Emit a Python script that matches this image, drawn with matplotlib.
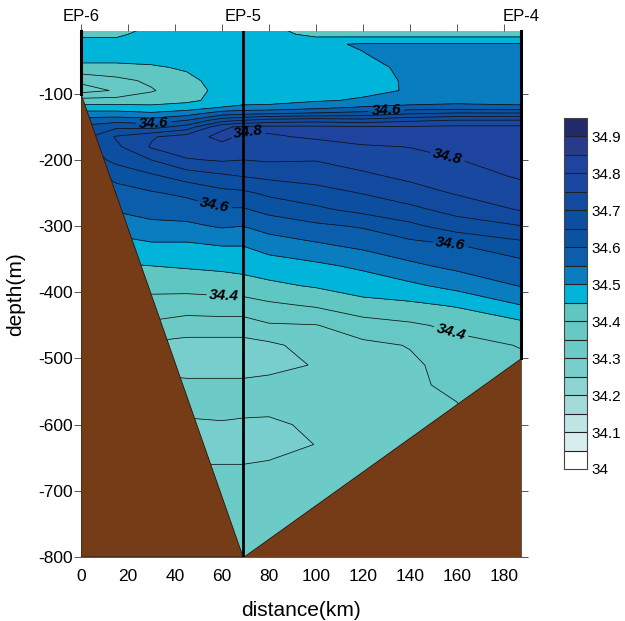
import matplotlib
matplotlib.use('Agg')
import matplotlib.pyplot as plt
import numpy as np
from matplotlib.patches import Polygon
from matplotlib.ticker import FixedLocator

plt.rcParams['font.family'] = ['Liberation Sans', 'DejaVu Sans']
plt.rcParams['axes.unicode_minus'] = False

# station grid (distance along section, km) and sample depths (m)
dist_km = [0, 15, 30, 45, 60, 69, 80, 100, 120, 140, 160, 187]
depth_m = [0, 10, 25, 40, 60, 80, 95, 110, 120, 130, 140, 150, 165, 180, 200,
           225, 250, 275, 300, 330, 360, 390, 420, 450, 480, 510, 540, 570,
           600, 630, 660, 700, 750, 800]

sal_0 = [34.40, 34.44, 34.47, 34.47, 34.44, 34.36, 34.33, 34.42, 34.47, 34.52,
         34.57, 34.61, 34.63, 34.63, 34.61, 34.58, 34.55, 34.53, 34.51, 34.47,
         34.44, 34.40, 34.36, 34.32, 34.29, 34.29, 34.31, 34.32, 34.30, 34.29,
         34.30, 34.32, 34.32, 34.32]
sal_15 = [34.41, 34.44, 34.47, 34.47, 34.44, 34.385, 34.355, 34.42, 34.47, 34.52,
          34.58, 34.64, 34.705, 34.69, 34.665, 34.61, 34.585, 34.555, 34.52, 34.48,
          34.445, 34.41, 34.37, 34.33, 34.29, 34.29, 34.31, 34.32, 34.30, 34.29,
          34.30, 34.32, 34.32, 34.32]
sal_30 = [34.46, 34.47, 34.47, 34.47, 34.445, 34.41, 34.395, 34.43, 34.46, 34.51,
          34.57, 34.63, 34.745, 34.755, 34.70, 34.64, 34.595, 34.565, 34.54, 34.49,
          34.45, 34.415, 34.38, 34.34, 34.29, 34.29, 34.31, 34.32, 34.30, 34.29,
          34.30, 34.32, 34.32, 34.32]
sal_45 = [34.47, 34.47, 34.47, 34.47, 34.455, 34.44, 34.435, 34.44, 34.47, 34.53,
          34.60, 34.67, 34.775, 34.78, 34.745, 34.67, 34.61, 34.575, 34.54, 34.49,
          34.455, 34.42, 34.37, 34.33, 34.28, 34.28, 34.31, 34.32, 34.29, 34.28,
          34.30, 34.32, 34.32, 34.32]
sal_60 = [34.47, 34.47, 34.47, 34.47, 34.47, 34.465, 34.46, 34.465, 34.50, 34.58,
          34.68, 34.79, 34.815, 34.785, 34.755, 34.69, 34.635, 34.595, 34.555, 34.50,
          34.46, 34.425, 34.375, 34.33, 34.28, 34.28, 34.31, 34.32, 34.295, 34.28,
          34.30, 34.32, 34.32, 34.32]
sal_69 = [34.47, 34.47, 34.47, 34.47, 34.47, 34.47, 34.47, 34.48, 34.51, 34.59,
          34.70, 34.81, 34.79, 34.77, 34.75, 34.70, 34.64, 34.595, 34.55, 34.50,
          34.465, 34.43, 34.375, 34.33, 34.28, 34.28, 34.31, 34.32, 34.29, 34.28,
          34.30, 34.32, 34.32, 34.32]
sal_80 = [34.46, 34.47, 34.47, 34.47, 34.47, 34.47, 34.475, 34.485, 34.51, 34.60,
          34.72, 34.81, 34.795, 34.775, 34.755, 34.71, 34.66, 34.615, 34.57, 34.52,
          34.475, 34.44, 34.39, 34.345, 34.29, 34.29, 34.31, 34.315, 34.29, 34.28,
          34.305, 34.32, 34.32, 34.32]
sal_100 = [34.42, 34.435, 34.49, 34.485, 34.48, 34.48, 34.485, 34.495, 34.53, 34.61,
           34.73, 34.81, 34.805, 34.785, 34.752, 34.72, 34.68, 34.64, 34.59, 34.54,
           34.49, 34.455, 34.405, 34.348, 34.32, 34.302, 34.32, 34.32, 34.31, 34.301,
           34.31, 34.32, 34.32, 34.32]
sal_120 = [34.40, 34.43, 34.505, 34.498, 34.48, 34.485, 34.49, 34.505, 34.553, 34.62,
           34.72, 34.805, 34.82, 34.795, 34.77, 34.74, 34.702, 34.665, 34.605, 34.56,
           34.51, 34.47, 34.435, 34.375, 34.34, 34.33, 34.33, 34.33, 34.33, 34.33,
           34.32, 34.32, 34.32, 34.32]
sal_140 = [34.40, 34.43, 34.505, 34.52, 34.515, 34.505, 34.503, 34.52, 34.565, 34.648,
           34.74, 34.805, 34.825, 34.801, 34.785, 34.76, 34.729, 34.687, 34.638, 34.581,
           34.54, 34.49, 34.439, 34.392, 34.352, 34.343, 34.345, 34.347, 34.347, 34.347,
           34.347, 34.347, 34.347, 34.347]
sal_160 = [34.40, 34.43, 34.505, 34.52, 34.52, 34.52, 34.52, 34.53, 34.57, 34.66,
           34.752, 34.81, 34.835, 34.82, 34.798, 34.777, 34.754, 34.718, 34.674, 34.596,
           34.562, 34.516, 34.454, 34.411, 34.385, 34.365, 34.356, 34.349, 34.349, 34.349,
           34.349, 34.349, 34.349, 34.349]
sal_187 = [34.40, 34.43, 34.505, 34.52, 34.52, 34.52, 34.52, 34.53, 34.56, 34.66,
           34.752, 34.81, 34.835, 34.835, 34.825, 34.805, 34.778, 34.753, 34.698, 34.63,
           34.582, 34.552, 34.498, 34.433, 34.402, 34.39, 34.38, 34.38, 34.38, 34.38,
           34.38, 34.38, 34.38, 34.38]

# bottom topography (distance, depth)
bottom_left = [(0, 100), (69, 800)]
bottom_right = [(187.3, 500), (69, 800)]

stations = ['EP-6', 'EP-5', 'EP-4']
station_km = [0, 69, 187.3]

levels = np.round(np.arange(34.0, 34.951, 0.05), 2)
label_levels = [34.4, 34.6, 34.8]
band_colors = ['#ffffff', '#d8eeee', '#bfe5e5', '#a3dbdb', '#8dd4d2', '#78cecc',
               '#6ccac7', '#66c8c4', '#5fc6c1', '#00b4da', '#0a7dc0', '#0a5eab',
               '#0a52a2', '#0c4e9f', '#124aa0', '#1848a0', '#1e44a0', '#283a8a',
               '#222a6a']

label_pos = [(31, -145), (71, -156), (130, -129), (156, -195),
             (57, -268), (157, -336), (61, -408), (158, -454)]

Z = np.column_stack([sal_0, sal_15, sal_30, sal_45, sal_60, sal_69, sal_80,
                     sal_100, sal_120, sal_140, sal_160, sal_187])
X, Y = np.meshgrid(dist_km, -np.array(depth_m))

fig = plt.figure(figsize=(6.25, 6.21), dpi=100)
ax = fig.add_axes([0.1296, 0.1031, 0.704, 0.847])
cax = fig.add_axes([0.9024, 0.2448, 0.0368, 0.5652])

cf = ax.contourf(X, Y, Z, levels=levels, colors=band_colors)
plain_levels = [lv for lv in levels if lv not in label_levels]
ax.contour(X, Y, Z, levels=plain_levels, colors='#111111', linewidths=0.55)
cs = ax.contour(X, Y, Z, levels=label_levels, colors='#111111', linewidths=0.55)
labels = ax.clabel(cs, manual=label_pos, inline=True, fmt='%.1f',
                   fontsize=11, inline_spacing=3)
for t in labels:
    t.set_fontweight('bold')
    t.set_fontstyle('italic')
    t.set_color('black')
    t.set_zorder(6)

# bathymetry
(x0, d0), (x1, d1) = bottom_left
ax.add_patch(Polygon([(x0, -d0), (x1, -d1), (x0, -d1)], closed=True,
                     facecolor='#763c18', edgecolor='#2a1406', lw=0.6, zorder=3))
(x0, d0), (x1, d1) = bottom_right
ax.add_patch(Polygon([(x0, -d0), (x0, -d1), (x1, -d1)], closed=True,
                     facecolor='#763c18', edgecolor='#2a1406', lw=0.6, zorder=3))

# station lines
ax.plot([station_km[0]] * 2, [-5, -bottom_left[0][1]], color='k', lw=2.2,
        zorder=5, clip_on=False)
ax.plot([station_km[1]] * 2, [-5, -800], color='k', lw=2.0, zorder=5)
ax.plot([station_km[2]] * 2, [-5, -bottom_right[0][1]], color='k', lw=2.2,
        zorder=5, clip_on=False)
for name, xk in zip(stations, station_km):
    ax.annotate(name, xy=(xk, 1.0), xycoords=('data', 'axes fraction'),
                xytext=(0, 5), textcoords='offset points', ha='center',
                va='bottom', fontsize=12)

ax.set_xlim(0, 187.3)
ax.set_ylim(-800, -5)
ax.xaxis.set_major_locator(FixedLocator(np.arange(0, 181, 20)))
ax.yaxis.set_major_locator(FixedLocator(np.arange(-800, -99, 100)))
ax.tick_params(axis='both', labelsize=12.5, width=0.7, color='#555555')
ax.tick_params(axis='x', direction='out', length=5, top=True, bottom=False,
               labeltop=False, pad=4)
ax.tick_params(axis='y', direction='out', length=5, right=True, pad=1)
for s in ax.spines.values():
    s.set_linewidth(0.7)
    s.set_color('#555555')
ax.spines['top'].set_visible(False)
ax.set_xlabel('distance(km)', fontsize=15, labelpad=12)
ax.set_ylabel('depth(m)', fontsize=15, labelpad=9)

cb_ticks = np.round(np.arange(34.0, 34.91, 0.1), 1)
cb = fig.colorbar(cf, cax=cax, ticks=cb_ticks, drawedges=True)
cb.ax.set_yticklabels(['%g' % v for v in cb_ticks])
cb.ax.tick_params(length=0, labelsize=11, pad=3)
cb.outline.set_edgecolor('#444444')
cb.outline.set_linewidth(0.8)
cb.dividers.set_color('#222222')
cb.dividers.set_linewidth(0.8)

fig.savefig('out.png', dpi=100)
